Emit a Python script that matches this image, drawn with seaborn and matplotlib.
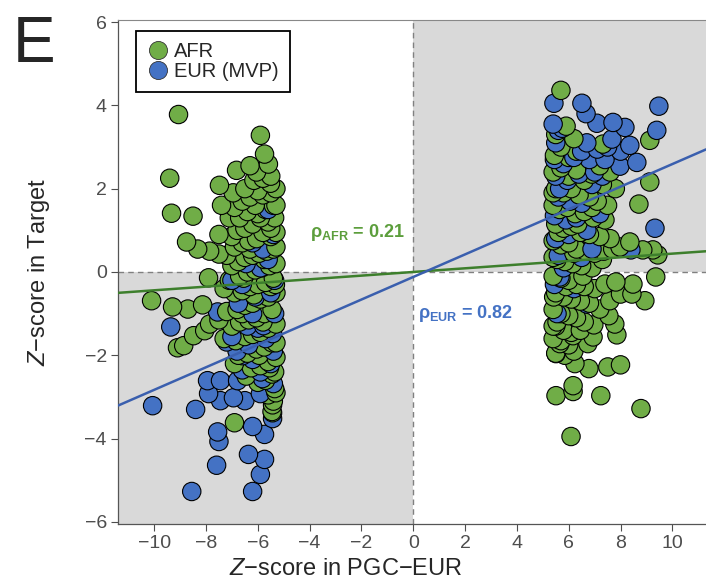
import numpy as np
import pandas as pd
import matplotlib
matplotlib.use('Agg')
import matplotlib.pyplot as plt
import seaborn as sns

# AFR points (PGC-EUR z, target z)
afr_x = [
    # left cluster, outer points
    -9.06, -5.9, -5.74, -5.59, -6.82, -9.4, -7.48, -5.51, -9.33, -8.5, -8.75, -8.32, -7.86, -7.5,
    -7.9, -10.1, -9.29, -8.7, -8.13, -9.1, -8.86, -8.48, -8.05, -7.86, -7.5, -6.9, -5.43, -5.43,
    # left cluster, core
    -5.3, -5.5, -5.8, -6.0, -6.3, -6.6, -6.9, -7.1, -5.4, -5.7, -6.1, -6.4, -6.7, -5.35, -5.6, -5.9,
    -6.2, -6.5, -6.8, -7.0, -5.3, -5.5, -5.8, -6.05, -6.35, -6.6, -6.9, -7.2, -5.4, -5.65, -5.95,
    -6.2, -6.5, -6.75, -7.0, -5.3, -5.55, -5.85, -6.1, -6.4, -6.7, -7.1, -5.4, -5.7, -6.0, -6.3,
    -6.6, -6.9, -5.3, -5.6, -5.9, -6.2, -6.5, -6.8, -7.2, -5.45, -5.75, -6.05, -6.35, -6.7, -7.0,
    -5.3, -5.6, -5.9, -6.2, -6.5, -6.85, -7.3, -5.45, -5.75, -6.05, -6.4, -6.75, -5.3, -5.6, -5.9,
    -6.25, -5.45, -5.7, -6.0, -5.35, -5.6, -5.4, -5.45, -5.5, -5.8, -6.15, -6.5, -6.0, -5.5, -6.3,
    -5.75, -6.55, -5.5, -6.15, -5.8, -6.6, -5.95, -6.45, -6.9, -5.55, -7.3, -7.5, -7.4, -6.95,
    -6.3, -6.05, -5.3, -5.3, -5.32, -5.3, -5.35, -5.3,
    # right cluster, outer points
    5.7, 9.13, 9.13, 8.71, 7.32, 9.36, 9.44, 9.25, 8.86, 8.36, 7.98, 7.7, 8.94, 7.82, 7.4, 8.48,
    8.0, 8.44, 7.59, 7.2, 7.55, 7.78, 7.86, 6.97, 6.94, 6.74, 6.17, 5.66, 5.51, 6.24, 6.78, 7.51,
    8.0, 6.17, 6.17, 5.51, 7.24, 8.79, 6.09,
    # right cluster, core
    5.4, 5.7, 6.0, 6.3, 6.6, 6.9, 7.3, 5.5, 5.8, 6.1, 6.4, 6.8, 7.1, 5.4, 5.65, 5.95, 6.25, 6.6,
    6.95, 7.4, 5.5, 5.8, 6.1, 6.45, 6.8, 7.2, 7.6, 5.4, 5.7, 6.0, 6.3, 6.65, 7.0, 7.35, 5.55, 5.85,
    6.15, 6.5, 6.9, 5.4, 5.7, 6.0, 6.3, 6.6, 7.0, 5.5, 5.8, 6.1, 6.45, 6.8, 5.4, 5.7, 6.0, 6.3, 6.6,
    5.5, 5.8, 6.1, 6.45, 5.4, 5.7, 6.0, 5.5, 5.85, 6.2, 5.45, 5.7, 6.0, 6.3, 5.5, 6.2, 5.9, 5.6,
    6.2, 5.9, 6.55, 5.55, 6.35, 6.9, 7.2, 7.6, 7.8, 7.5, 7.3, 5.4, 5.4, 5.42, 5.4,
]
afr_y = [
    3.78, 3.28, 2.83, 2.59, 2.44, 2.25, 2.08, 2.13, 1.41, 1.34, 0.72, 0.55, 0.5, 0.43,
    -0.14, -0.69, -0.84, -0.89, -0.79, -1.82, -1.77, -1.53, -1.41, -1.25, -1.15, -3.62, -3.38, -3.19,
    2.0, 1.9, 1.85, 1.95, 1.8, 1.7, 1.55, 1.3, 1.6, 1.5, 1.6, 1.45, 1.3, 1.3, 1.2, 1.3,
    1.15, 1.05, 1.0, 0.85, 0.95, 0.85, 0.95, 0.8, 0.75, 0.7, 0.6, 0.4, 0.55, 0.5, 0.45,
    0.4, 0.35, 0.25, 0.15, 0.2, 0.15, 0.1, 0.05, 0.0, -0.1, -0.2, -0.15, -0.25, -0.3, -0.35,
    -0.45, -0.5, -0.5, -0.6, -0.65, -0.75, -0.8, -0.9, -0.95, -0.9, -1.0, -1.1, -1.15, -1.2, -1.3,
    -1.25, -1.35, -1.45, -1.5, -1.55, -1.65, -1.6, -1.7, -1.8, -1.85, -1.95, -2.0, -2.05, -2.15, -2.25,
    -2.3, -2.45, -2.6, -2.65, -2.8, -2.95, -3.1, -3.35, 2.3, 2.25, 2.2, 2.0, 1.4, 1.05, 0.55,
    0.3, -0.15, -0.35, -0.55, -1.2, -1.0, -2.0, -2.5, -2.2, -2.3, -0.4, 0.9, 1.6, 1.9,
    2.55, 2.4, 1.6, 0.6, -0.3, -1.7, -2.4, -2.9,
    4.36, 3.16, 2.16, 1.63, 3.07, -0.12, 0.41, 0.53, 0.53, 0.72, 0.6, 0.55, -0.69, -0.24, -0.29, -0.29,
    -0.53, -0.53, -0.69, -0.89, -1.05, -1.25, -1.51, -1.27, -1.56, -1.72, -1.53, -1.72, -1.96, -2.2, -2.32, -2.28,
    -2.23, -2.73, -2.87, -2.97, -2.97, -3.28, -3.95,
    2.4, 2.5, 2.3, 2.45, 2.2, 2.35, 2.1, 2.0, 1.9, 2.0, 1.85, 1.8, 1.7, 1.6, 1.5, 1.55, 1.4, 1.45,
    1.3, 1.25, 1.15, 1.05, 1.1, 0.95, 0.9, 0.85, 0.8, 0.75, 0.65, 0.7, 0.55, 0.5, 0.45, 0.5, 0.3, 0.25,
    0.2, 0.15, 0.1, -0.1, -0.15, -0.2, -0.3, -0.35, -0.4, -0.5, -0.6, -0.65, -0.7, -0.75, -0.9, -1.0, -1.05, -1.1, -1.2,
    -1.3, -1.4, -1.45, -1.4, -1.6, -1.65, -1.75, -1.95, -2.0, -1.9, 2.8, 3.0, 2.75, 2.9, 3.3, 3.2, 3.5, 0.95,
    0.45, -0.35, -0.1, -1.2, 1.15, 1.55, 2.55, 2.4, 2.0, 1.6, 0.3, 1.9, 0.35, -0.6, -1.3,
]

# EUR (MVP) points
eur_x = [
    # left cluster
    -9.36, -10.06, -8.4, -7.94, -7.44, -6.78, -7.9, -7.44, -6.94, -6.5, -7.55, -7.5, -6.2, -5.74,
    -6.36, -5.74, -7.59, -5.9, -8.55, -6.2,
    -6.2, -5.6, -5.4, -5.9, -6.6, -7.0, -5.5, -6.1, -5.35, -6.4, -7.0, -6.8, -5.7, -6.2, -5.5, -6.6,
    -5.9, -6.35, -5.4, -7.2, -7.55, -6.2, -5.78, -5.43, -6.59, -5.82, -5.4, -5.9, -5.43, -5.6, -5.8,
    -6.45, -5.35, -6.0, -6.75,
    # right cluster
    5.43, 6.51, 6.67, 7.09, 7.71, 8.17, 9.48, 9.4, 8.63, 7.98, 8.0, 8.36, 7.67, 9.33, 8.4, 5.66, 6.7,
    5.4, 5.6, 5.75, 5.5, 5.45, 5.8, 6.2, 6.5, 6.8, 7.1, 7.4, 5.5, 5.95, 6.4, 6.9, 7.3, 5.6, 6.05, 6.5,
    7.0, 5.45, 5.9, 6.3, 6.7, 5.5, 6.0, 6.5, 5.6, 5.45, 5.8, 6.9, 7.2, 6.2, 5.55, 5.65, 6.7, 7.5,
]
eur_y = [
    -1.32, -3.21, -3.3, -2.61, -2.61, -2.61, -2.92, -3.09, -3.02, -3.09, -3.84, -4.07, -3.71, -3.9,
    -4.38, -4.5, -4.64, -4.86, -5.27, -5.27,
    0.7, 0.3, 0.9, 0.1, -0.3, -0.2, -0.5, -0.6, -1.0, -1.3, -1.55, -1.9, -1.6, -2.1, -2.2, -2.35,
    -2.4, -1.75, -1.9, -1.68, -0.96, -1.0, -1.29, -1.48, -2.01, -2.56, -2.68, -2.92, -3.52, 1.5, 0.55,
    0.2, -0.2, -1.35, -0.75,
    4.05, 4.05, 3.8, 3.57, 3.59, 3.47, 3.98, 3.4, 2.63, 2.54, 2.9, 3.04, 3.19, 1.05, 0.53, -0.12, -0.77,
    3.55, 3.4, 3.45, 3.1, 2.7, 2.6, 2.75, 2.9, 2.7, 2.95, 2.7, 2.3, 2.2, 2.35, 2.1, 2.3, 1.8, 1.7, 1.65,
    2.4, 1.35, 1.25, 1.3, 1.0, 0.8, 0.9, 0.35, 0.4, -0.3, 0.1, 0.55, 1.4, -0.4, -1.0, 2.0, 3.1, 3.0,
]

groups = ['AFR', 'EUR (MVP)']
colors = ['#70AD47', '#4472C4']

# fitted lines (slope, intercept) and correlations shown in the panel
fit_afr = (0.044, 0.0)
fit_eur = (0.271, -0.12)
rho_afr = 0.21
rho_eur = 0.82

df = pd.concat([
    pd.DataFrame({'pgc': afr_x, 'target': afr_y, 'pop': groups[0]}),
    pd.DataFrame({'pgc': eur_x, 'target': eur_y, 'pop': groups[1]}),
], ignore_index=True)
# mix draw order so both colours overlap each other
df = df.sort_values('target', kind='stable').reset_index(drop=True)

sns.set_style('white')
plt.rcParams['font.family'] = ['Liberation Sans', 'DejaVu Sans']
plt.rcParams['mathtext.fontset'] = 'custom'
plt.rcParams['mathtext.rm'] = 'Liberation Sans'
plt.rcParams['mathtext.it'] = 'Liberation Sans:italic'
plt.rcParams['mathtext.bf'] = 'Liberation Sans:bold'

fig = plt.figure(figsize=(7.06, 5.82), dpi=100)
ax = fig.add_axes([0.167, 0.0997, 0.833, 0.866])

xlim = (-11.4, 11.3)
ylim = (-6.05, 6.05)
ax.set_xlim(xlim)
ax.set_ylim(ylim)

# shaded concordant quadrants
ax.fill_between([0, xlim[1]], 0, ylim[1], color='#d9d9d9', lw=0, zorder=0)
ax.fill_between([xlim[0], 0], ylim[0], 0, color='#d9d9d9', lw=0, zorder=0)
ax.axhline(0, color='#808080', ls=(0, (4, 3)), lw=1, zorder=1)
ax.axvline(0, color='#808080', ls=(0, (4, 3)), lw=1, zorder=1)

sns.scatterplot(data=df, x='pgc', y='target', hue='pop', hue_order=groups,
                palette=colors, s=175, edgecolor='black', linewidth=0.8,
                alpha=1, ax=ax, zorder=2, legend=False)

ax.axline((0, fit_afr[1]), slope=fit_afr[0], color='#3D7F2C', lw=1.8, zorder=3)
ax.axline((0, fit_eur[1]), slope=fit_eur[0], color='#3A5FAE', lw=1.8, zorder=3)

ax.text(-4.0, 0.95, '\u03c1' + r'$_{\mathbf{AFR}}$' + f' = {rho_afr}', color='#5C9E3C',
        fontsize=13, va='center', ha='left', fontweight='bold')
ax.text(0.2, -1.0, '\u03c1' + r'$_{\mathbf{EUR}}$' + f' = {rho_eur}', color='#4472C4',
        fontsize=13, va='center', ha='left', fontweight='bold')

# legend
handles = [plt.Line2D([], [], marker='o', ls='', markersize=13, markerfacecolor=c,
                      markeredgecolor='#333333', markeredgewidth=0.6) for c in colors]
leg = ax.legend(handles, groups, loc='upper left', bbox_to_anchor=(0.02, 0.99),
                fontsize=14.5, frameon=True, fancybox=False, framealpha=1,
                edgecolor='black', handletextpad=0.25, borderpad=0.55,
                labelspacing=0.05, handlelength=1.1, borderaxespad=0.3)
leg.get_frame().set_linewidth(1.3)

ax.set_xticks([-10, -8, -6, -4, -2, 0, 2, 4, 6, 8, 10])
ax.set_yticks([-6, -4, -2, 0, 2, 4, 6])
ax.set_xticklabels(['\u221210', '\u22128', '\u22126', '\u22124', '\u22122', '0', '2', '4', '6', '8', '10'])
ax.set_yticklabels(['\u22126', '\u22124', '\u22122', '0', '2', '4', '6'])
ax.tick_params(axis='both', labelsize=14, labelcolor='#4d4d4d', color='#4d4d4d',
               direction='out', length=5, width=0.8, bottom=True, left=True, pad=3)

ax.set_xlabel(r'$\mathit{Z}$' + '\u2212score in PGC\u2212EUR', fontsize=17)
ax.set_ylabel(r'$\mathit{Z}$' + '\u2212score in Target', fontsize=17)
ax.xaxis.set_label_coords(0.388, -0.068)
ax.yaxis.set_label_coords(-0.112, 0.5)

for side in ['left', 'bottom']:
    ax.spines[side].set_color('#555555')
    ax.spines[side].set_linewidth(0.9)
ax.spines['top'].set_color('#888888')
ax.spines['top'].set_linewidth(0.8)
ax.spines['right'].set_visible(False)

fig.text(0.018, 0.975, 'E', fontsize=46, va='top', ha='left')

fig.savefig('out.png', dpi=100)
